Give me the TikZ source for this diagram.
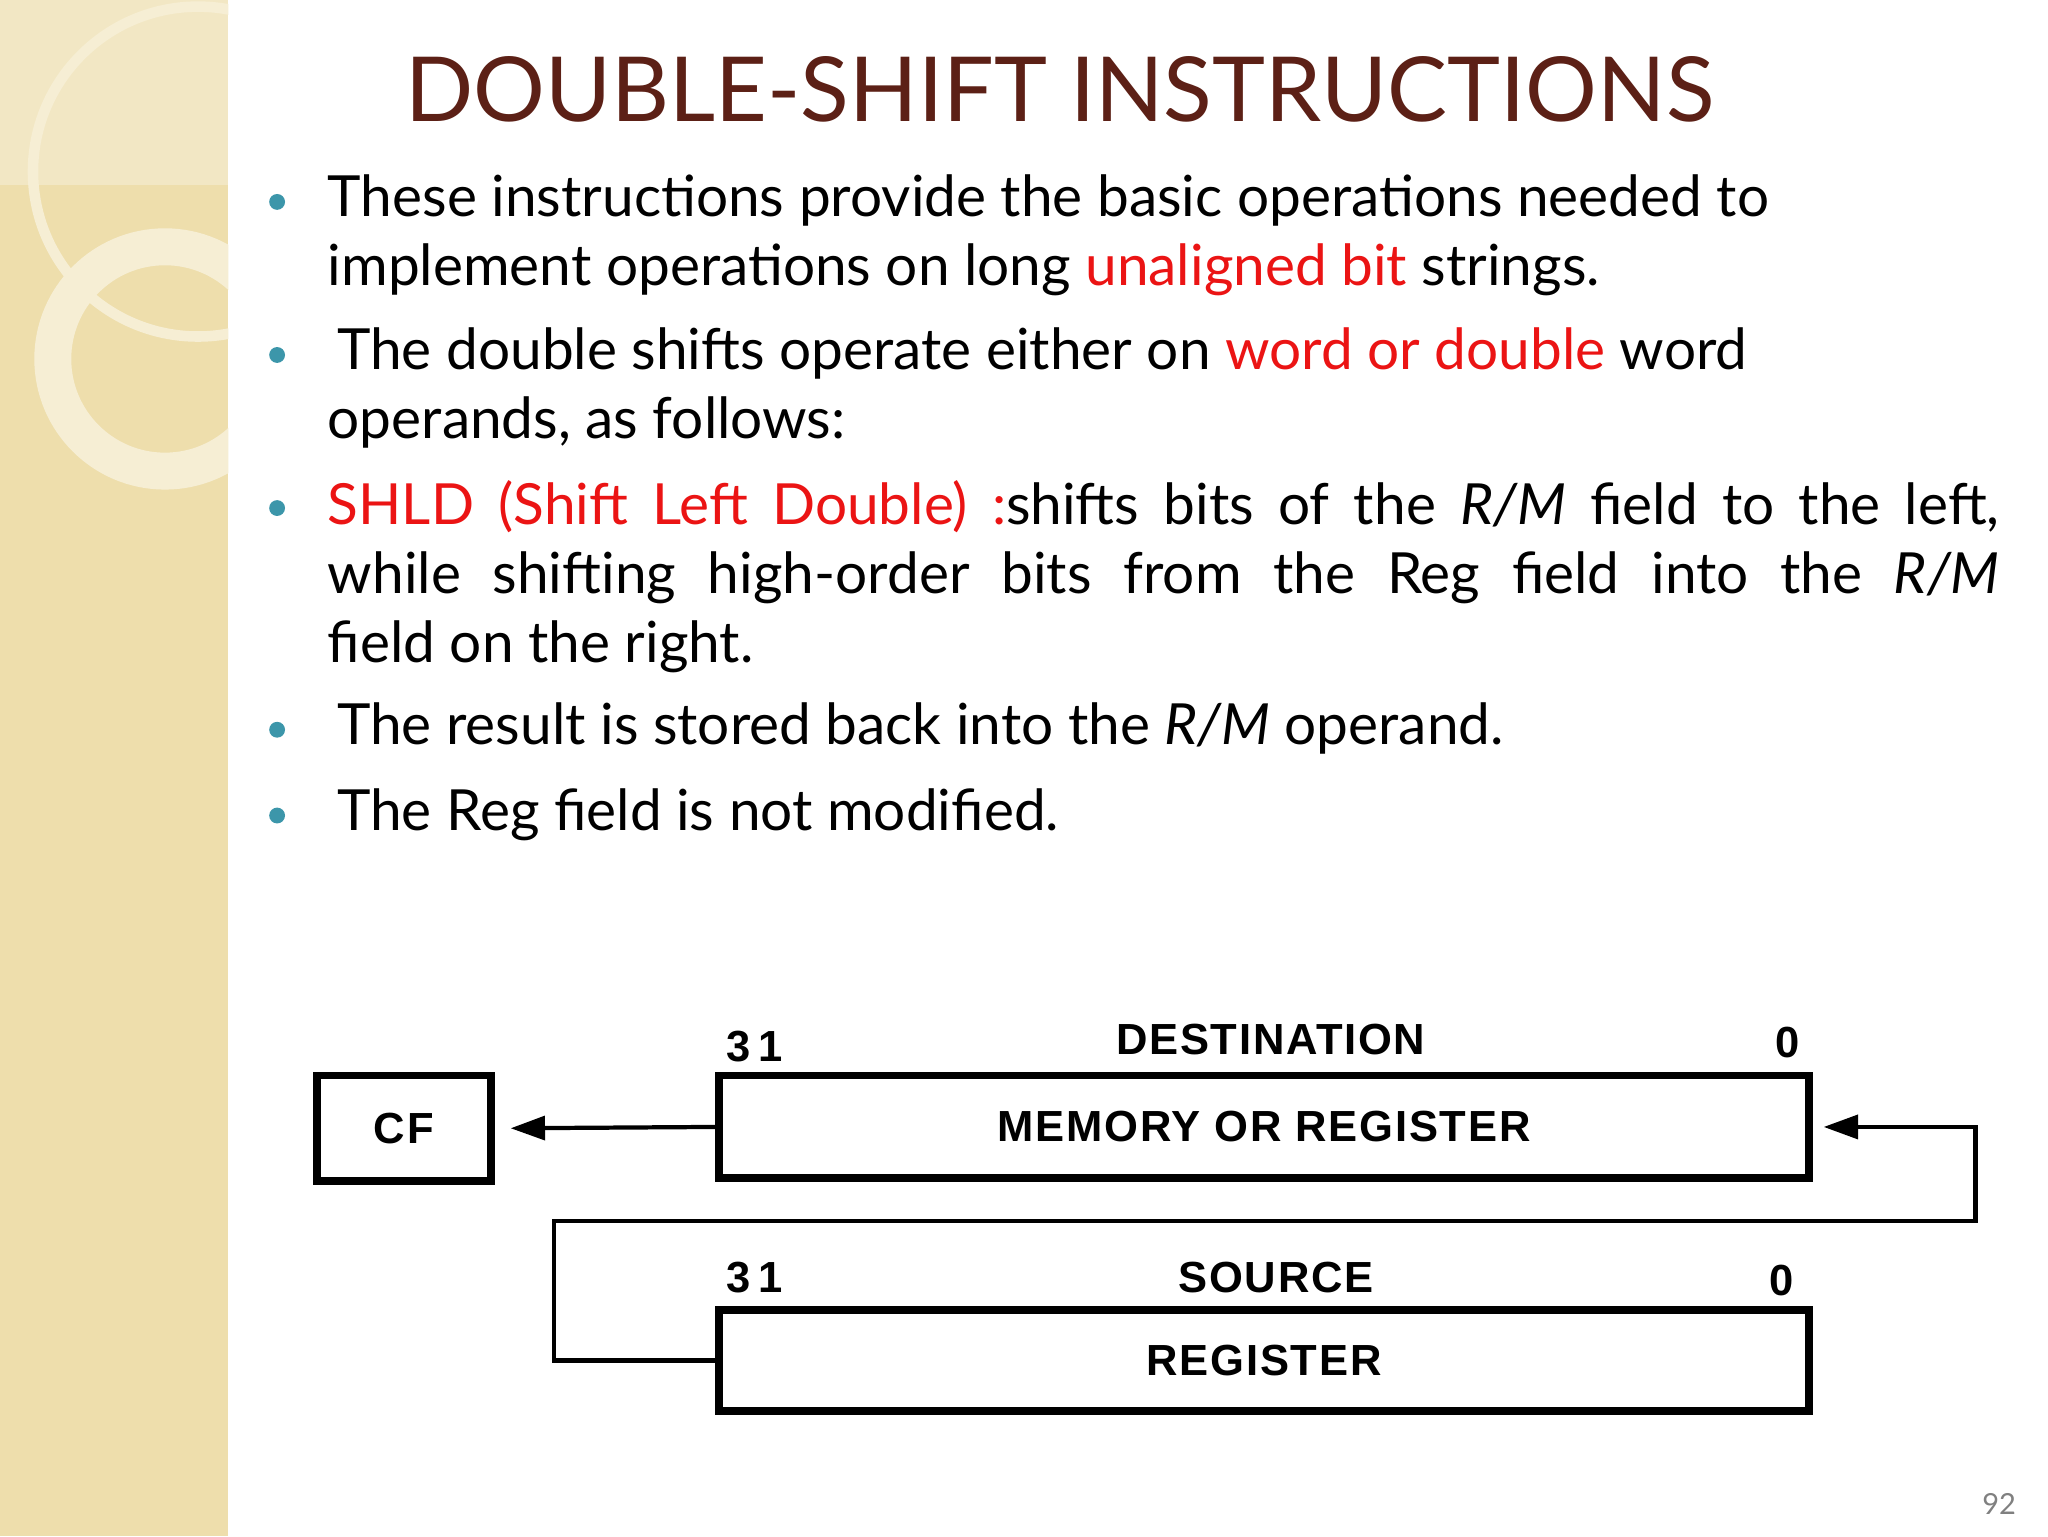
\documentclass[tikz,border=0pt]{standalone}
\usepackage{fontspec}
\setmainfont{Lato}
\newfontfamily\diag[LetterSpace=4]{Liberation Sans}
\usetikzlibrary{arrows.meta}
\definecolor{band}{RGB}{238,222,172}
\definecolor{ring}{RGB}{246,238,212}
\definecolor{ttl}{RGB}{92,32,22}
\definecolor{bul}{RGB}{60,150,170}
\definecolor{hl}{RGB}{235,20,20}
\tikzset{
  body/.style={anchor=north west,inner sep=0pt,font=\fontsize{21.5}{26}\selectfont},
  dot/.style={circle,fill=bul,inner sep=0pt,minimum size=6pt},
  reg/.style={draw,line width=3pt,inner sep=0pt},
  lab/.style={font=\diag\bfseries\fontsize{16.5}{18}\selectfont},
  wire/.style={line width=1.6pt},
  tip/.style={-{Triangle[length=13pt,width=9pt]}}
}
\begin{document}
\begin{tikzpicture}[x=0.5pt,y=-0.5pt]
\useasboundingbox (0,0) rectangle (1552,1164);
\fill[white] (0,0) rectangle (1552,1164);
\fill[band] (0,0) rectangle (173,1164);
\begin{scope}
\clip (0,0) rectangle (173,1164);
\draw[ring,line width=4pt] (150,130) circle (125);
\draw[ring,line width=14pt] (125,272) circle (85);
\fill[ring,opacity=0.6] (0,0) rectangle (173,140);
\end{scope}
\node[font=\fontsize{34}{38}\selectfont,text=ttl] (title) at (803,68) {DOUBLE-SHIFT INSTRUCTIONS};
\node[dot] (b1) at (210,153) {};
\node[dot] (b2) at (210,269) {};
\node[dot] (b3) at (210,385) {};
\node[dot] (b4) at (210,553) {};
\node[dot] (b5) at (210,618) {};
\node[body,align=left] (p1) at (248,132) {These instructions provide the basic operations needed to\\implement operations on long \textcolor{hl}{unaligned bit} strings.};
\node[body,align=left] (p2) at (248,248) {\,The double shifts operate either on \textcolor{hl}{word or double} word\\operands, as follows:};
\node[body,text width=633.5pt,align=justify] (p3) at (248,364) {\textcolor{hl}{SHLD (Shift Left Double) :}shifts bits of the \textit{R/M} field to the left, while shifting high-order bits from the Reg field into the \textit{R/M}\linebreak field on the right.};
\node[body] (p4) at (248,532) {\,The result is stored back into the \textit{R/M} operand.};
\node[body] (p5) at (248,597) {\,The Reg field is not modified.};
% diagram
\node[reg,minimum width=66pt,minimum height=40pt] (cf) at (306,855) {};
\node[lab] at (cf) {CF};
\node[reg,minimum width=413pt,minimum height=39pt] (dst) at (958,854) {};
\node[lab] at (dst) {MEMORY OR REGISTER};
\node[reg,minimum width=413pt,minimum height=38pt] (src) at (958,1031) {};
\node[lab] at (src) {REGISTER};
\node[lab] (d31) at (572,793) {3\,1};
\node[lab] (dn) at (963,788) {DESTINATION};
\node[lab] (d0) at (1355,790) {0};
\node[lab] (s31) at (572,968) {3\,1};
\node[lab] (sn) at (967,968) {SOURCE};
\node[lab] (s0) at (1350,970) {0};
\coordinate (r1) at (1497,925);
\coordinate (l1) at (420,925);
\draw[wire,tip] (dst.west) -- ([xshift=6]cf.east);
\draw[wire,tip] (src.west) -- (l1|-src.west) -- (l1) -- (r1) -- (r1|-dst.east) -- ([xshift=4]dst.east);
\node[text=gray,font=\fontsize{11}{13}\selectfont] (pg) at (1515,1140) {92};
\end{tikzpicture}
\end{document}
